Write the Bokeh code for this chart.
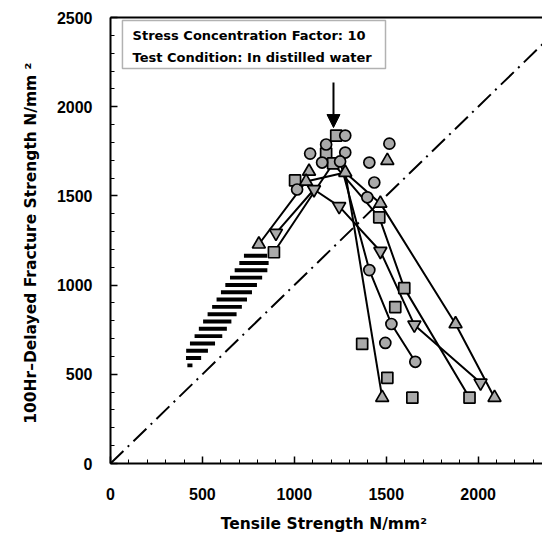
from bokeh.plotting import figure
from bokeh.models import (LinearAxis, Range1d, FixedTicker, Arrow, NormalHead,
                          BoxAnnotation, Label)
from bokeh.embed import file_html
from bokeh.resources import INLINE
import numpy as np

# ---------------- data ----------------
# markers, by shape
tri_x = [1080, 1277, 1064, 807, 1506, 1468, 1877, 1478, 2089]
tri_y = [1637, 1631, 1581, 1229, 1698, 1458, 782, 369, 369]

dtri_x = [1107, 1244, 900, 1468, 1653, 2013]
dtri_y = [1536, 1441, 1291, 1190, 777, 452]

sq_x = [1228, 1173, 1211, 1004, 889, 1462, 1598, 1549, 1369, 1506, 1642, 1953]
sq_y = [1838, 1737, 1682, 1587, 1184, 1380, 983, 877, 670, 480, 369, 369]

circ_x = [1277, 1173, 1086, 1277, 1151, 1249, 1015, 1517, 1408, 1435, 1397, 1408, 1528, 1495, 1658]
circ_y = [1838, 1788, 1737, 1743, 1687, 1693, 1536, 1793, 1687, 1575, 1492, 1084, 782, 676, 570]

# connected series
line_tri_a_x = [807, 1064, 1277, 1468, 1877, 2089]
line_tri_a_y = [1229, 1581, 1631, 1458, 782, 369]
line_tri_b_x = [1277, 1478]
line_tri_b_y = [1631, 369]
line_dtri_x = [900, 1107, 1244, 1468, 1653, 2013]
line_dtri_y = [1291, 1536, 1441, 1190, 777, 452]
line_sq_x = [889, 1211, 1462, 1598, 1953]
line_sq_y = [1184, 1682, 1380, 983, 369]
line_circ_x = [1249, 1408, 1528, 1658]
line_circ_y = [1693, 1084, 782, 570]

# hatched band (outline, data units)
band_y = [535, 560, 595, 640, 715, 800, 900, 1000, 1100, 1170]
band_left = [423, 415, 410, 412, 458, 506, 566, 624, 686, 729]
band_right = [432, 455, 498, 537, 609, 660, 730, 796, 865, 851]

# diagonal (tensile = fracture strength)
diag_x = [0, 2400]
diag_y = [0, 2400]

# arrow (points at the peak)
arrow_x = 1213
arrow_y_start = 2136
arrow_y_end = 1883

x_ticks = [0, 500, 1000, 1500, 2000]
y_ticks = [0, 500, 1000, 1500, 2000, 2500]

note_lines = ["Stress Concentration Factor: 10", "Test Condition: In distilled water"]

FONT = "Liberation Sans"
LFONT = "DejaVu Sans"
MFILL = "#aaaaaa"

p = figure(width=542, height=537, x_range=Range1d(0, 2350), y_range=Range1d(0, 2500),
           output_backend="svg", toolbar_location=None,
           min_border_left=110, min_border_right=0, min_border_top=17, min_border_bottom=74)
p.grid.visible = False
p.outline_line_color = None
p.background_fill_color = "white"
p.border_fill_color = "white"

for ax, ticks, top in ((p.xaxis[0], x_ticks, 2300), (p.yaxis[0], y_ticks, 2500)):
    ax.ticker = FixedTicker(ticks=ticks, minor_ticks=list(range(0, top + 1, 100)))
    ax.axis_line_width = 2
    ax.axis_line_color = "black"
    ax.major_tick_in = 7
    ax.major_tick_out = 0
    ax.minor_tick_in = 4
    ax.minor_tick_out = 0
    ax.major_tick_line_width = 1.5
    ax.minor_tick_line_width = 1
    ax.major_label_text_font = FONT
    ax.major_label_text_font_style = "bold"
    ax.major_label_text_font_size = "16px"
    ax.major_label_text_color = "black"
    ax.axis_label_text_font = LFONT
    ax.axis_label_text_font_style = "bold"
    ax.axis_label_text_font_size = "15.5px"
    ax.axis_label_text_color = "black"

p.xaxis.major_label_standoff = 24
p.xaxis.axis_label = "Tensile Strength  N/mm²"
p.xaxis.axis_label_standoff = 12
p.yaxis.major_label_standoff = 18
p.yaxis.axis_label = "100Hr–Delayed Fracture Strength  N/mm ²"
p.yaxis.axis_label_standoff = 14

top_axis = LinearAxis(ticker=FixedTicker(ticks=[]), axis_line_width=2,
                      major_label_text_font_size="0px")
p.add_layout(top_axis, "above")

# diagonal
p.line(diag_x, diag_y, line_color="black", line_width=2, line_dash="18 6 2 6")

# hatched band: horizontal stripes clipped by band outline
stripe_y = np.arange(550, 1175, 41)
stripe_l = np.interp(stripe_y, band_y, band_left)
stripe_r = np.interp(stripe_y, band_y, band_right)
p.hbar(y=stripe_y, left=stripe_l, right=stripe_r, height=22, fill_color="black", line_color=None)

# connecting lines
for lx, ly in ((line_tri_a_x, line_tri_a_y), (line_tri_b_x, line_tri_b_y),
               (line_dtri_x, line_dtri_y), (line_sq_x, line_sq_y),
               (line_circ_x, line_circ_y)):
    p.line(lx, ly, line_color="black", line_width=2)

# markers
p.scatter(sq_x, sq_y, marker="square", size=11, fill_color=MFILL, line_color="black", line_width=1.7)
p.scatter(circ_x, circ_y, marker="circle", size=11, fill_color=MFILL, line_color="black", line_width=1.7)
p.scatter(tri_x, tri_y, marker="triangle", size=13, fill_color=MFILL, line_color="black", line_width=1.7)
p.scatter(dtri_x, dtri_y, marker="inverted_triangle", size=13, fill_color=MFILL, line_color="black", line_width=1.7)

# arrow
p.add_layout(Arrow(end=NormalHead(size=13, fill_color="black", line_color="black"),
                   x_start=arrow_x, y_start=arrow_y_start, x_end=arrow_x, y_end=arrow_y_end,
                   line_width=2, line_color="black"))

# note box
p.add_layout(BoxAnnotation(left=65, right=1496, bottom=2214, top=2483,
                           fill_color="white", fill_alpha=1, line_color="black", line_width=1.5))
for txt, yy in zip(note_lines, [2399, 2276]):
    p.add_layout(Label(x=120, y=yy, text=txt, text_font=LFONT, text_font_style="bold",
                       text_font_size="13px", text_baseline="middle", text_color="black"))

open("out.html", "w").write(file_html(p, INLINE))
